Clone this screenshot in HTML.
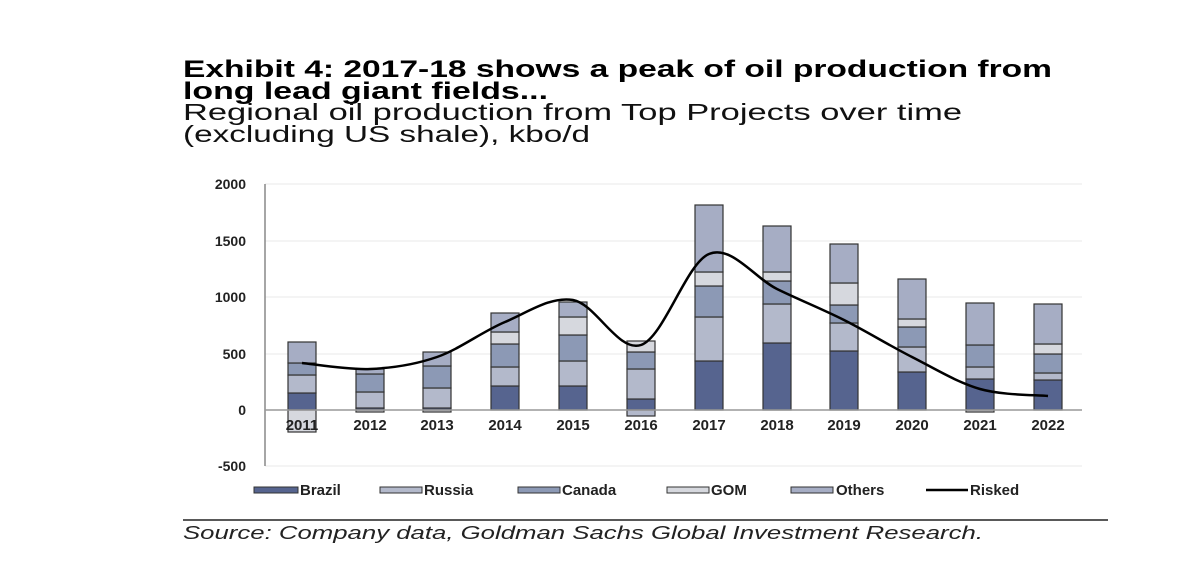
<!DOCTYPE html>
<html><head><meta charset="utf-8"><style>
html,body{margin:0;padding:0;background:#fff;}
svg{display:block;font-family:"Liberation Sans",Arial,sans-serif;}
</style></head><body>
<svg width="1200" height="563" viewBox="0 0 1200 563" xmlns="http://www.w3.org/2000/svg">
<text x="183" y="77" font-size="24" font-weight="bold" fill="#000" textLength="869" lengthAdjust="spacingAndGlyphs">Exhibit 4: 2017-18 shows a peak of oil production from</text>
<text x="183" y="99" font-size="24" font-weight="bold" fill="#000" textLength="365" lengthAdjust="spacingAndGlyphs">long lead giant fields...</text>
<text x="183" y="120" font-size="23" fill="#111" textLength="779" lengthAdjust="spacingAndGlyphs">Regional oil production from Top Projects over time</text>
<text x="183" y="142" font-size="23" fill="#111" textLength="407" lengthAdjust="spacingAndGlyphs">(excluding US shale), kbo/d</text>

<g stroke="#e8e8e8" stroke-width="1">
<line x1="265" y1="184" x2="1082" y2="184"/><line x1="265" y1="241" x2="1082" y2="241"/>
<line x1="265" y1="297" x2="1082" y2="297"/><line x1="265" y1="354" x2="1082" y2="354"/>
<line x1="265" y1="466" x2="1082" y2="466"/>
</g>
<g font-size="14" font-weight="bold" fill="#222" text-anchor="end">
<text x="246" y="189">2000</text><text x="246" y="246">1500</text><text x="246" y="302">1000</text>
<text x="246" y="359">500</text><text x="246" y="415">0</text><text x="246" y="471">-500</text>
</g>

<g stroke="#333" stroke-width="1.2">
<rect x="288" y="393" width="28" height="17" fill="#56648f"/><rect x="288" y="375" width="28" height="18" fill="#b3b9cb"/><rect x="288" y="363" width="28" height="12" fill="#8c99b5"/><rect x="288" y="342" width="28" height="21" fill="#a6adc4"/><rect x="288" y="410" width="28" height="22" fill="#d6d8de"/>
<rect x="356" y="408" width="28" height="2" fill="#56648f"/><rect x="356" y="392" width="28" height="16" fill="#b3b9cb"/><rect x="356" y="374" width="28" height="18" fill="#8c99b5"/><rect x="356" y="369" width="28" height="5" fill="#a6adc4"/><rect x="356" y="410" width="28" height="2" fill="#d6d8de"/>
<rect x="423" y="408" width="28" height="2" fill="#56648f"/><rect x="423" y="388" width="28" height="20" fill="#b3b9cb"/><rect x="423" y="366" width="28" height="22" fill="#8c99b5"/><rect x="423" y="352" width="28" height="14" fill="#a6adc4"/><rect x="423" y="410" width="28" height="2" fill="#d6d8de"/>
<rect x="491" y="386" width="28" height="24" fill="#56648f"/><rect x="491" y="367" width="28" height="19" fill="#b3b9cb"/><rect x="491" y="344" width="28" height="23" fill="#8c99b5"/><rect x="491" y="332" width="28" height="12" fill="#d6d8de"/><rect x="491" y="313" width="28" height="19" fill="#a6adc4"/>
<rect x="559" y="386" width="28" height="24" fill="#56648f"/><rect x="559" y="361" width="28" height="25" fill="#b3b9cb"/><rect x="559" y="335" width="28" height="26" fill="#8c99b5"/><rect x="559" y="317" width="28" height="18" fill="#d6d8de"/><rect x="559" y="302" width="28" height="15" fill="#a6adc4"/>
<rect x="627" y="399" width="28" height="11" fill="#56648f"/><rect x="627" y="369" width="28" height="30" fill="#b3b9cb"/><rect x="627" y="352" width="28" height="17" fill="#8c99b5"/><rect x="627" y="341" width="28" height="11" fill="#d6d8de"/><rect x="627" y="410" width="28" height="6" fill="#b3b9cb"/>
<rect x="695" y="361" width="28" height="49" fill="#56648f"/><rect x="695" y="317" width="28" height="44" fill="#b3b9cb"/><rect x="695" y="286" width="28" height="31" fill="#8c99b5"/><rect x="695" y="272" width="28" height="14" fill="#d6d8de"/><rect x="695" y="205" width="28" height="67" fill="#a6adc4"/>
<rect x="763" y="343" width="28" height="67" fill="#56648f"/><rect x="763" y="304" width="28" height="39" fill="#b3b9cb"/><rect x="763" y="281" width="28" height="23" fill="#8c99b5"/><rect x="763" y="272" width="28" height="9" fill="#d6d8de"/><rect x="763" y="226" width="28" height="46" fill="#a6adc4"/>
<rect x="830" y="351" width="28" height="59" fill="#56648f"/><rect x="830" y="323" width="28" height="28" fill="#b3b9cb"/><rect x="830" y="305" width="28" height="18" fill="#8c99b5"/><rect x="830" y="283" width="28" height="22" fill="#d6d8de"/><rect x="830" y="244" width="28" height="39" fill="#a6adc4"/>
<rect x="898" y="372" width="28" height="38" fill="#56648f"/><rect x="898" y="347" width="28" height="25" fill="#b3b9cb"/><rect x="898" y="327" width="28" height="20" fill="#8c99b5"/><rect x="898" y="319" width="28" height="8" fill="#d6d8de"/><rect x="898" y="279" width="28" height="40" fill="#a6adc4"/>
<rect x="966" y="379" width="28" height="31" fill="#56648f"/><rect x="966" y="367" width="28" height="12" fill="#b3b9cb"/><rect x="966" y="345" width="28" height="22" fill="#8c99b5"/><rect x="966" y="303" width="28" height="42" fill="#a6adc4"/><rect x="966" y="410" width="28" height="2" fill="#d6d8de"/>
<rect x="1034" y="380" width="28" height="30" fill="#56648f"/><rect x="1034" y="373" width="28" height="7" fill="#b3b9cb"/><rect x="1034" y="354" width="28" height="19" fill="#8c99b5"/><rect x="1034" y="344" width="28" height="10" fill="#d6d8de"/><rect x="1034" y="304" width="28" height="40" fill="#a6adc4"/>
</g>

<line x1="265" y1="184" x2="265" y2="466" stroke="#888" stroke-width="1.5"/>
<line x1="265" y1="410" x2="1082" y2="410" stroke="#999" stroke-width="1.5"/>

<g font-size="15" font-weight="bold" fill="#222" text-anchor="middle">
<text x="302" y="430">2011</text><text x="370" y="430">2012</text><text x="437" y="430">2013</text>
<text x="505" y="430">2014</text><text x="573" y="430">2015</text><text x="641" y="430">2016</text>
<text x="709" y="430">2017</text><text x="777" y="430">2018</text><text x="844" y="430">2019</text>
<text x="912" y="430">2020</text><text x="980" y="430">2021</text><text x="1048" y="430">2022</text>
</g>

<path d="M302,363 C313,364 347.5,370 370,369 C392.5,368 414.5,364.8 437,357 C459.5,349.2 482.3,331.5 505,322 C527.7,312.5 550.3,296.2 573,300 C595.7,303.8 618.3,352.7 641,345 C663.7,337.3 686.3,263.3 709,254 C731.7,244.7 754.5,278 777,289 C799.5,300 821.5,308.7 844,320 C866.5,331.3 889.3,345.5 912,357 C934.7,368.5 957.3,382.5 980,389 C1002.7,395.5 1036.7,394.8 1048,396" fill="none" stroke="#000" stroke-width="2.5"/>

<g stroke="#333" stroke-width="1">
<rect x="254" y="487" width="44" height="6" fill="#56648f"/>
<rect x="380" y="487" width="42" height="6" fill="#b3b9cb"/>
<rect x="518" y="487" width="42" height="6" fill="#8c99b5"/>
<rect x="667" y="487" width="42" height="6" fill="#d6d8de"/>
<rect x="791" y="487" width="42" height="6" fill="#a6adc4"/>
</g>
<line x1="926" y1="490" x2="968" y2="490" stroke="#000" stroke-width="2.5"/>
<g font-size="15" font-weight="bold" fill="#222">
<text x="300" y="495">Brazil</text><text x="424" y="495">Russia</text><text x="562" y="495">Canada</text>
<text x="711" y="495">GOM</text><text x="836" y="495">Others</text><text x="970" y="495">Risked</text>
</g>

<line x1="183" y1="520" x2="1108" y2="520" stroke="#222" stroke-width="1.5"/>
<text x="183" y="539" font-size="18" font-style="italic" fill="#222" textLength="800" lengthAdjust="spacingAndGlyphs">Source: Company data, Goldman Sachs Global Investment Research.</text>
</svg>
</body></html>
